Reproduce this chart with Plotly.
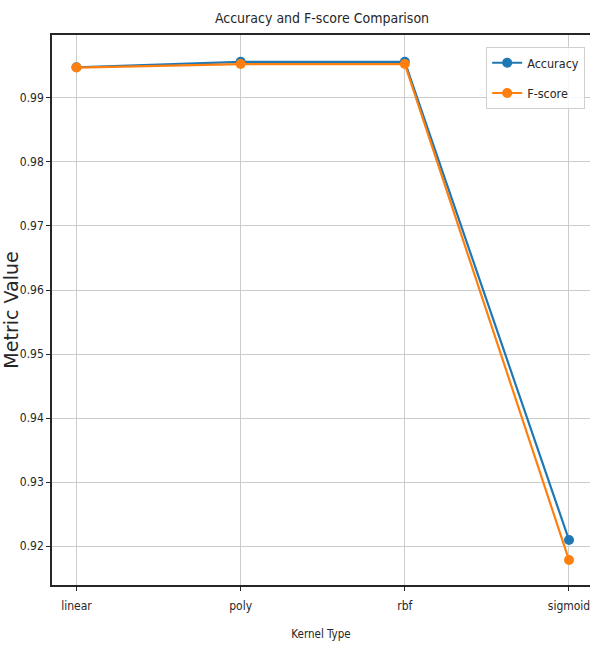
import plotly.graph_objects as go

kernels = ["linear", "poly", "rbf", "sigmoid"]
accuracy = [0.99480, 0.99565, 0.99565, 0.92094]
fscore = [0.99475, 0.99530, 0.99530, 0.91781]
y_ticks = [0.92, 0.93, 0.94, 0.95, 0.96, 0.97, 0.98, 0.99]

font_c = "DejaVu Sans Condensed, DejaVu Sans, sans-serif"
ink = "#262626"

fig = go.Figure()
fig.add_trace(go.Scatter(x=list(range(len(kernels))), y=accuracy, mode="lines+markers",
                         name="Accuracy", legendgroup="acc",
                         line=dict(color="#1f77b4", width=2.2),
                         marker=dict(size=10, color="#1f77b4")))
fig.add_trace(go.Scatter(x=list(range(len(kernels))), y=fscore, mode="lines+markers",
                         name="F-score", legendgroup="fs",
                         line=dict(color="#ff7f0e", width=2.2),
                         marker=dict(size=10, color="#ff7f0e")))

fig.update_layout(
    width=590, height=649,
    margin=dict(l=52, r=0, t=35, b=64, autoexpand=False),
    paper_bgcolor="white", plot_bgcolor="white",
    font=dict(family=font_c, size=12, color=ink),
    title=dict(text="Accuracy and F-score Comparison", x=(322 / 590), xanchor="center",
               y=1 - 18 / 649, yanchor="middle", font=dict(family=font_c, size=14, color=ink)),
    showlegend=True,
    legend=dict(x=0.991, xanchor="right", y=0.978, yanchor="top",
                bgcolor="rgba(255,255,255,0.85)", bordercolor="#d0d0d0", borderwidth=1,
                font=dict(family=font_c, size=12.5, color=ink), tracegroupgap=11),
)
fig.update_xaxes(
    tickmode="array", tickvals=list(range(len(kernels))), ticktext=kernels,
    range=[-0.149, 3.128], showgrid=True, gridcolor="#cccccc", gridwidth=1,
    showline=True, linecolor=ink, linewidth=1.6, mirror=True,
    ticks="outside", ticklen=4, tickcolor=ink, zeroline=False, automargin=False,
    ticklabeloverflow="allow", ticklabelstandoff=5,
    tickfont=dict(family=font_c, size=12),
    title=dict(text="Kernel Type", font=dict(family=font_c, size=11.5), standoff=18),
)
fig.update_yaxes(
    tickmode="array", tickvals=y_ticks, ticktext=[f"{v:.2f}" for v in y_ticks],
    range=[0.91391, 0.99984], showgrid=True, gridcolor="#cccccc", gridwidth=1,
    showline=True, linecolor=ink, linewidth=1.6, mirror=True,
    ticks="outside", ticklen=4, tickcolor=ink, zeroline=False, automargin=False,
    tickfont=dict(family=font_c, size=12),
    title=dict(text="Metric Value", font=dict(family="DejaVu Sans, sans-serif", size=19), standoff=4),
)

fig.write_html("out.html", post_script="document.body.style.margin='0';",
               config={"displayModeBar": False})
